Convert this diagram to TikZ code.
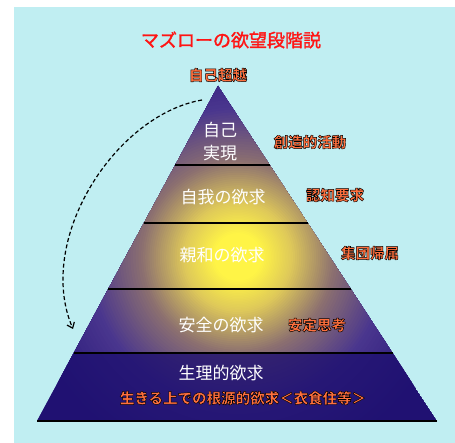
\documentclass[tikz,border=0pt]{standalone}
\usepackage{fontspec}
\usetikzlibrary{calc,arrows.meta}
\newfontfamily\jp{Noto Sans CJK JP}
\IfFontExistsTF{Noto Sans CJK JP Black}
  {\newfontfamily\jpb{Noto Sans CJK JP Black}\def\olw{0.45}}
  {\IfFontExistsTF{Noto Sans CJK JP Bold}
    {\newfontfamily\jpb{Noto Sans CJK JP Bold}\def\olw{0.4}}
    {\newfontfamily\jpb{Noto Sans CJK JP}\def\olw{0.3}}}
\newfontfamily\jpt{Noto Sans CJK JP}[FakeBold=1.6]
\definecolor{bgc}{RGB}{192,238,242}
\definecolor{gY}{RGB}{255,244,70}
\definecolor{gG}{RGB}{222,200,90}
\definecolor{gM}{RGB}{140,112,112}
\definecolor{gP}{RGB}{74,54,142}
\definecolor{gN}{RGB}{40,24,122}
\definecolor{navyb}{RGB}{30,16,112}
\definecolor{labor}{RGB}{255,112,62}
\definecolor{titred}{RGB}{255,20,20}
\newcommand{\olbl}[1]{\textcolor{labor}{\special{pdf:literal direct 0 0 0 RG 2 Tr \olw\space w}#1\special{pdf:literal direct 0 Tr}}}
\tikzset{
  lvl/.style={text=white, font=\jp\fontsize{17}{23}\selectfont, align=center, inner sep=0pt},
  side/.style={font=\jpb\fontsize{14.5}{16}\selectfont, inner sep=0pt},
  divline/.style={black, line width=1.1pt},
  jump/.style={black, line width=1.2pt, dash pattern=on 4pt off 2.5pt, -{Straight Barb[length=5pt,width=8pt]}}
}
\begin{document}
\begin{tikzpicture}[x=1pt,y=-1pt]
\useasboundingbox (0,0) rectangle (455,443);
\fill[white] (0,0) rectangle (455,443);
\fill[bgc] (14,7) rectangle (455,443);
% pyramid corners
\coordinate (A) at (218,86);
\coordinate (L) at (37,421);
\coordinate (R) at (437,421);
\coordinate (G) at (238,257);
\begin{scope}
\clip (A) -- (L) -- (R) -- cycle;
\fill[gN] (A) -- (L) -- (R) -- cycle;
\foreach \ra/\rb/\ca/\cb in {220/150/gN/gP, 150/97/gP/gM, 97/55/gM/gG, 55/24/gG/gY}{
  \foreach \k in {0,...,19}{
    \pgfmathsetmacro\rr{\ra-(\ra-\rb)*\k/20}
    \pgfmathtruncatemacro\pp{100*\k/20}
    \fill[\cb!\pp!\ca] (G) circle (\rr pt);
  }
}
\fill[gY] (G) circle (24pt);
\coordinate (l4) at ($(A)!0.7970!(L)$);
\coordinate (r4) at ($(A)!0.7970!(R)$);
\fill[navyb, opacity=0.8] (l4) -- (r4) -- (R) -- (L) -- cycle;
\end{scope}
\coordinate (l1) at ($(A)!0.2358!(L)$);
\coordinate (r1) at ($(A)!0.2358!(R)$);
\coordinate (l2) at ($(A)!0.4090!(L)$);
\coordinate (r2) at ($(A)!0.4090!(R)$);
\coordinate (l3) at ($(A)!0.6060!(L)$);
\coordinate (r3) at ($(A)!0.6060!(R)$);
\draw[divline] (l1) -- (r1);
\draw[divline] (l2) -- (r2);
\draw[divline] (l3) -- (r3);
\draw[divline] (l4) -- (r4);
\draw[divline] (L) -- (R);
% title
\node[font=\jpt\fontsize{18}{20}\selectfont, text=titred, inner sep=0pt] (title) at (231,40) {マズローの欲望段階説};
\node[side] (top) at (218,75) {\olbl{自己超越}};
% levels
\node[lvl] (n1) at (220,142) {自己\\実現};
\node[lvl] (n2) at (223,197) {自我の欲求};
\node[lvl] (n3) at (222,255) {親和の欲求};
\node[lvl] (n4) at (221,325) {安全の欲求};
\node[lvl] (n5) at (221,373) {生理的欲求};
\node[side] (n5b) at (243,398) {\olbl{生きる上での根源的欲求＜衣食住等＞}};
% side labels
\node[side] (s1) at (310,142) {\olbl{創造的活動}};
\node[side] (s2) at (335,195) {\olbl{認知要求}};
\node[side] (s3) at (370,253) {\olbl{集団帰属}};
\node[side] (s4) at (317,325) {\olbl{安定思考}};
% dashed arrow
\coordinate (as) at (202,100);
\coordinate (ae) at (73,329);
\draw[jump] (as) .. controls (115,115) and (35,240) .. (ae);
\end{tikzpicture}
\end{document}
